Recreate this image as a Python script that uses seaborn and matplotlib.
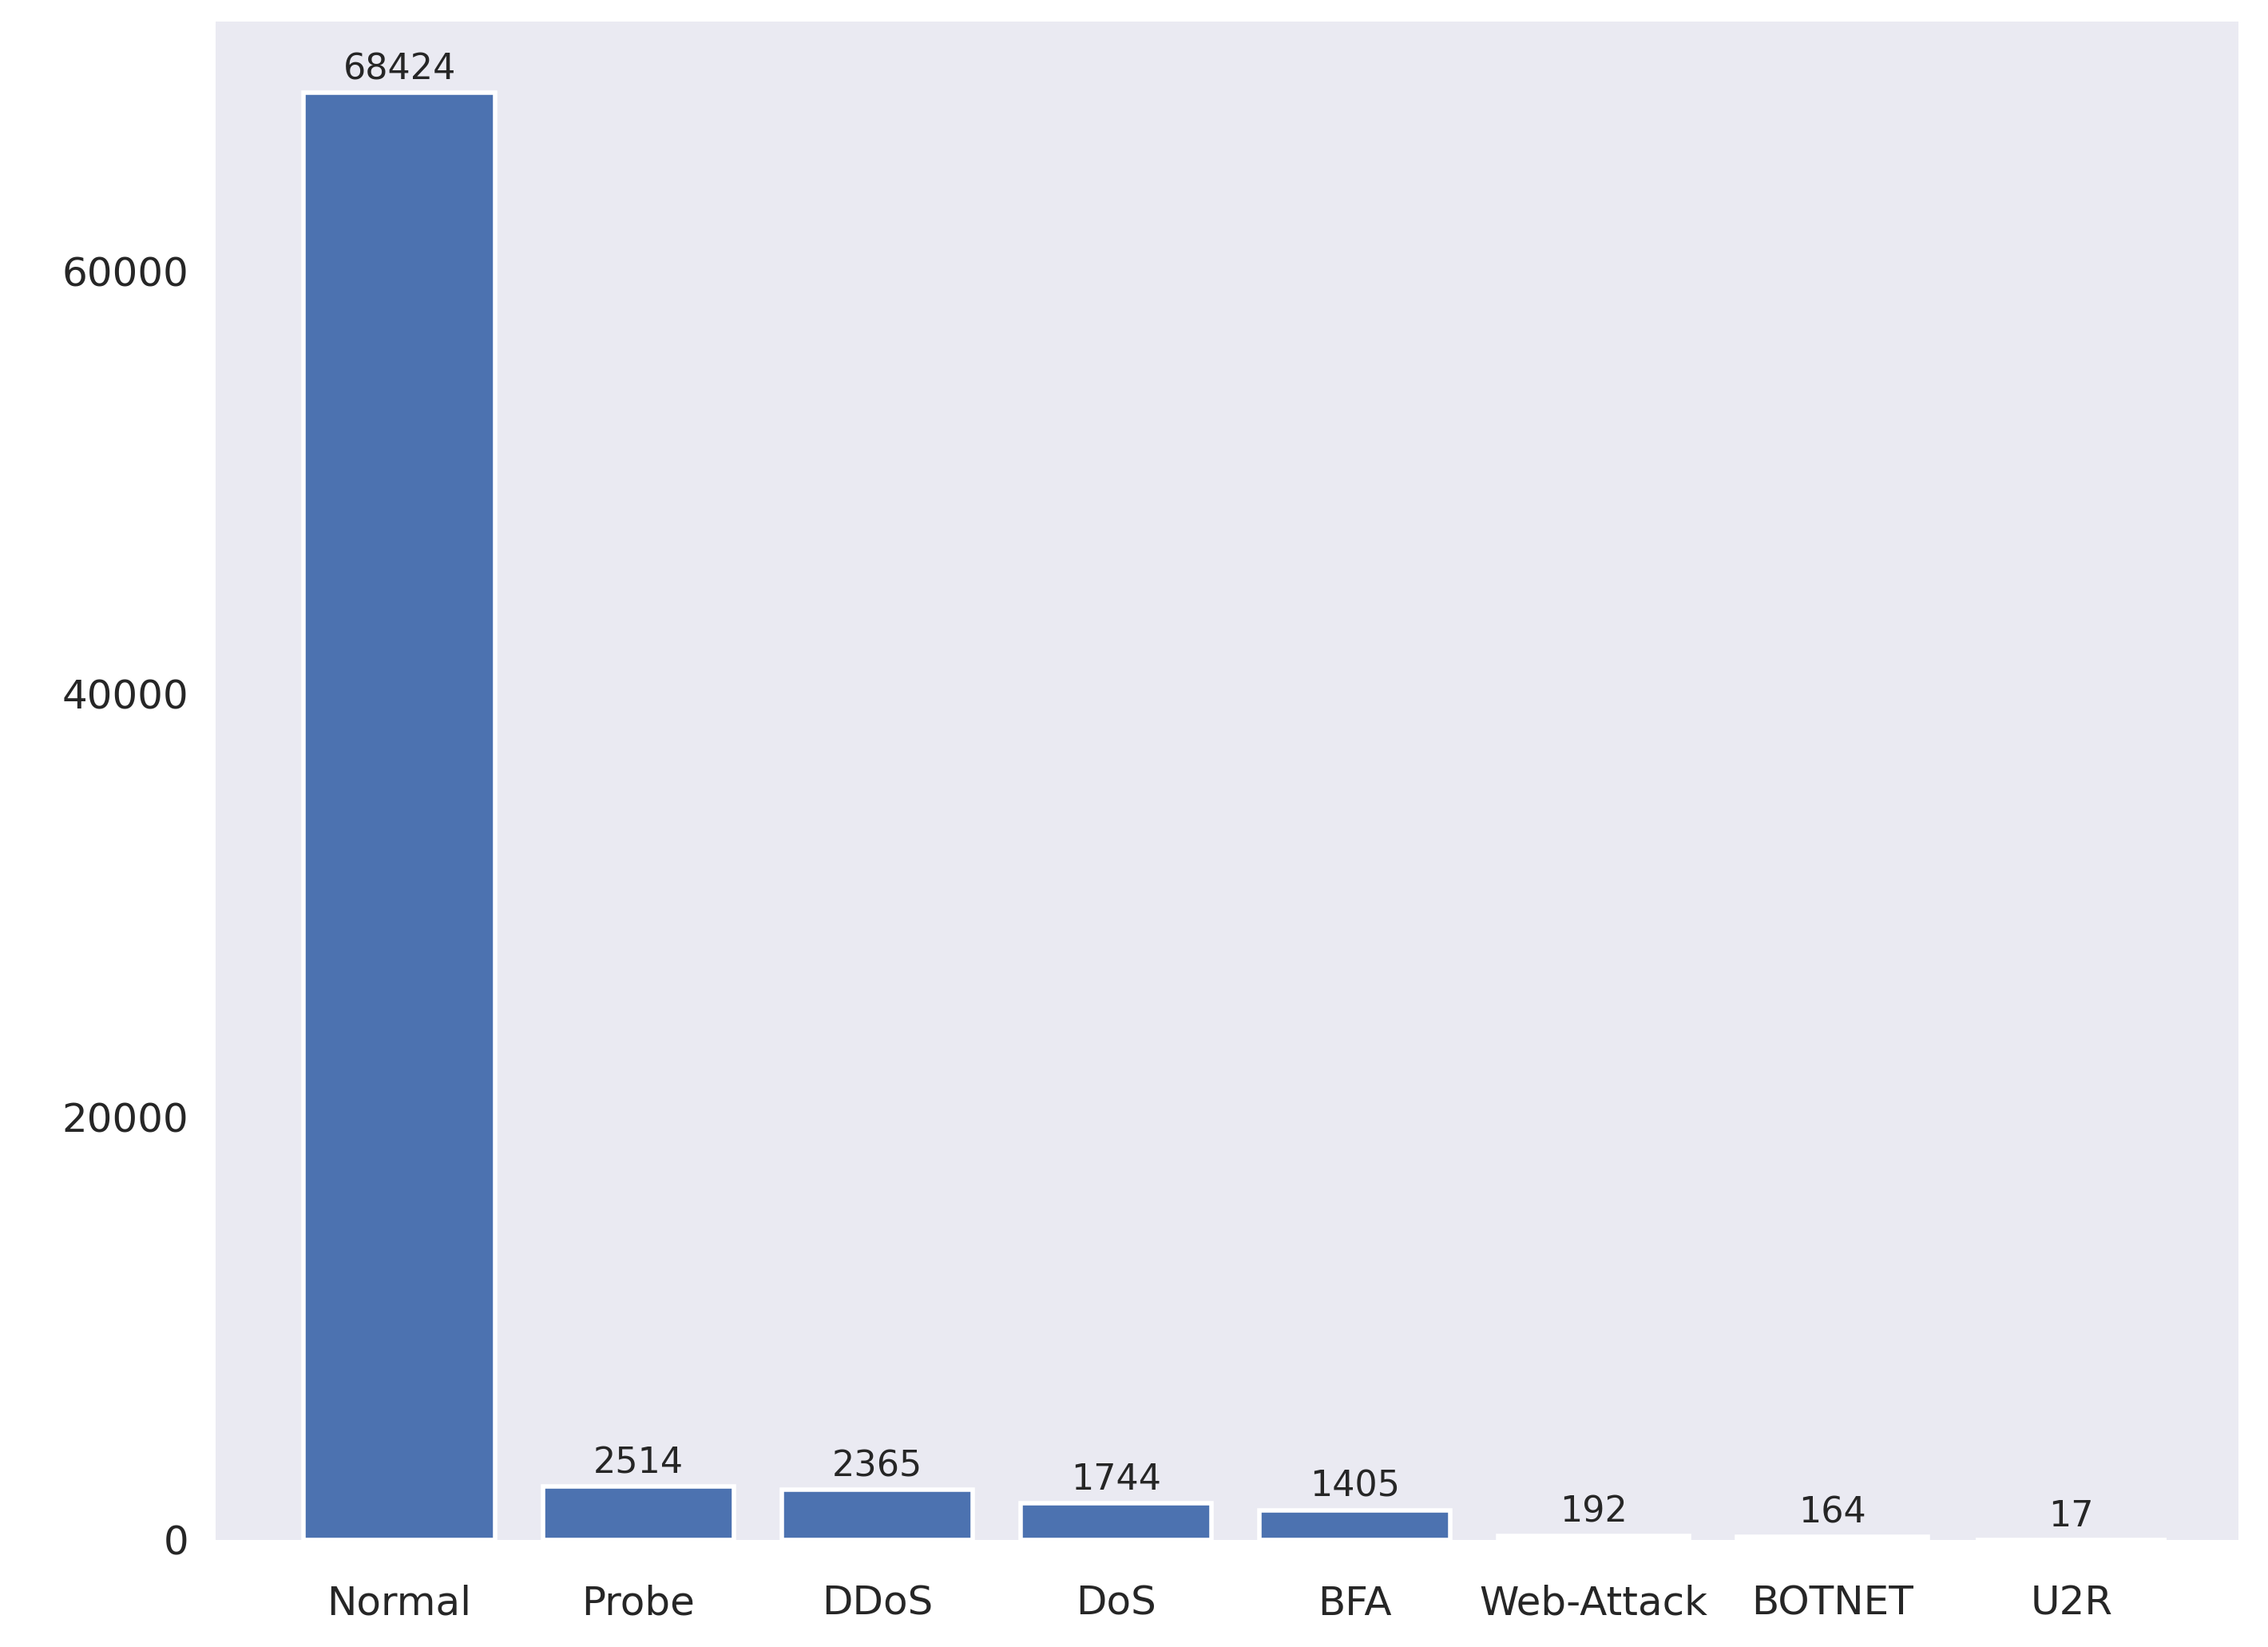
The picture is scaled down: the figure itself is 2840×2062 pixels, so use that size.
import matplotlib
matplotlib.use("Agg")
import matplotlib.pyplot as plt
import seaborn as sns
import pandas as pd

categories = ["Normal", "Probe", "DDoS", "DoS", "BFA", "Web-Attack", "BOTNET", "U2R"]
counts = [68424, 2514, 2365, 1744, 1405, 192, 164, 17]

sns.set_theme(style="dark")
df = pd.DataFrame({"label": categories, "count": counts})
fig, ax = plt.subplots(figsize=(14.2, 10.31), dpi=200)
fig.subplots_adjust(left=0.095, right=0.987, top=0.987, bottom=0.065)
sns.barplot(data=df, x="label", y="count", color="#4c72b0", saturation=1,
            width=0.8, edgecolor="white", linewidth=2, ax=ax)
for i, v in enumerate(counts):
    ax.text(i, v + 300, str(v), ha="center", va="bottom", fontsize=16)
ax.set_xlim(-0.77, 7.7)
ax.set_ylim(0, 71800)
ax.set_yticks([0, 20000, 40000, 60000])
ax.tick_params(axis="both", labelsize=18, length=0, pad=12)
ax.tick_params(axis="x", pad=20)
ax.set_xlabel("")
ax.set_ylabel("")
for s in ax.spines.values():
    s.set_visible(False)
fig.savefig("out.png", dpi=200)
